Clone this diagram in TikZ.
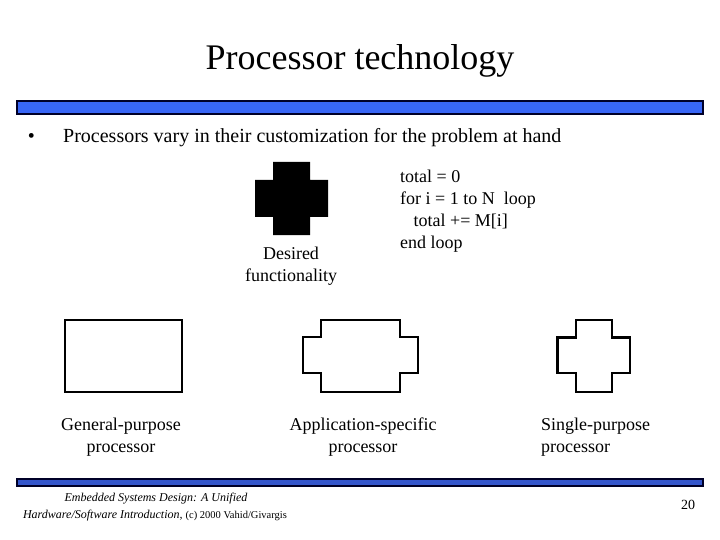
\documentclass[tikz,border=0pt]{standalone}
\usepackage{fontspec}
\setmainfont{Liberation Serif}
\definecolor{barblue}{RGB}{56,102,246}
\definecolor{barbluedk}{RGB}{52,86,204}
\definecolor{barnavy}{RGB}{0,0,40}
\newcommand{\labelfont}{\fontsize{18}{21.6}\selectfont}

\begin{document}
\begin{tikzpicture}[x=1pt,y=-1pt,
  lbl/.style={font=\labelfont, align=center, anchor=north, inner sep=0pt},
  foottext/.style={anchor=base, inner sep=0pt, font=\fontsize{12}{14}\selectfont\itshape},
  bar/.style={draw=barnavy, line width=1.6pt},
  shp/.style={draw=black, line width=2.2pt, line join=miter}]
 \useasboundingbox (0,0) rectangle (720,540);

 \node (title) at (360,70) [anchor=base, font=\fontsize{36}{43}\selectfont] {Processor technology};
 \draw[bar, fill=barblue] (17,101) rectangle (703,114);

 \node (dot)    at (31.5,143) [anchor=base, inner sep=0pt, font=\fontsize{20}{24}\selectfont] {\textbullet};
 \node (bullet) at (63,143)   [anchor=base west, inner sep=0pt, font=\fontsize{20}{24}\selectfont]
   {Processors vary in their customization for the problem at hand};

 \fill (273,162) -- (310,162) -- (310,180) -- (328,180) -- (328,217) -- (310,217) -- (310,235)
   -- (273,235) -- (273,217) -- (255,217) -- (255,180) -- (273,180) -- cycle;
 \node (want) at (291,247) [lbl] {Desired\\functionality};
 \node (code) at (400,170) [anchor=north west, inner sep=0pt, align=left, font=\fontsize{18}{22}\selectfont]
   {total = 0\\for i = 1 to N\ \ loop\\\ \ \ total += M[i]\\end loop};

 \draw[shp] (65,320) rectangle (182,392);
 \draw[shp] (321,320) -- (400,320) -- (400,337) -- (418,337) -- (418,373) -- (400,373) -- (400,392)
   -- (321,392) -- (321,373) -- (303,373) -- (303,337) -- (321,337) -- cycle;
 \draw[shp] (576,320) -- (612,320) -- (612,337.5) -- (630,337.5) -- (630,373) -- (612,373) -- (612,392)
   -- (576,392) -- (576,373) -- (557.5,373) -- (557.5,337.5) -- (576,337.5) -- cycle;

 \node (gpp) at (121,418) [lbl] {General-purpose\\processor};
 \node (asp) at (363,418) [lbl] {Application-specific\\processor};
 \node (spp) at (541,418) [lbl, anchor=north west, align=left] {Single-purpose\\processor};

 \draw[bar, fill=barbluedk] (17,479) rectangle (703,486);
 \node (foot1) at (156,501) [foottext] {Embedded Systems Design: A Unified};
 \node (foot2) at (155,518) [foottext]
   {Hardware/Software Introduction, {\upshape\fontsize{10.5}{12}\selectfont (c) 2000 Vahid/Givargis}};
 \node (page) at (688,509) [anchor=base, inner sep=0pt, font=\fontsize{14}{17}\selectfont] {20};
\end{tikzpicture}
\end{document}
